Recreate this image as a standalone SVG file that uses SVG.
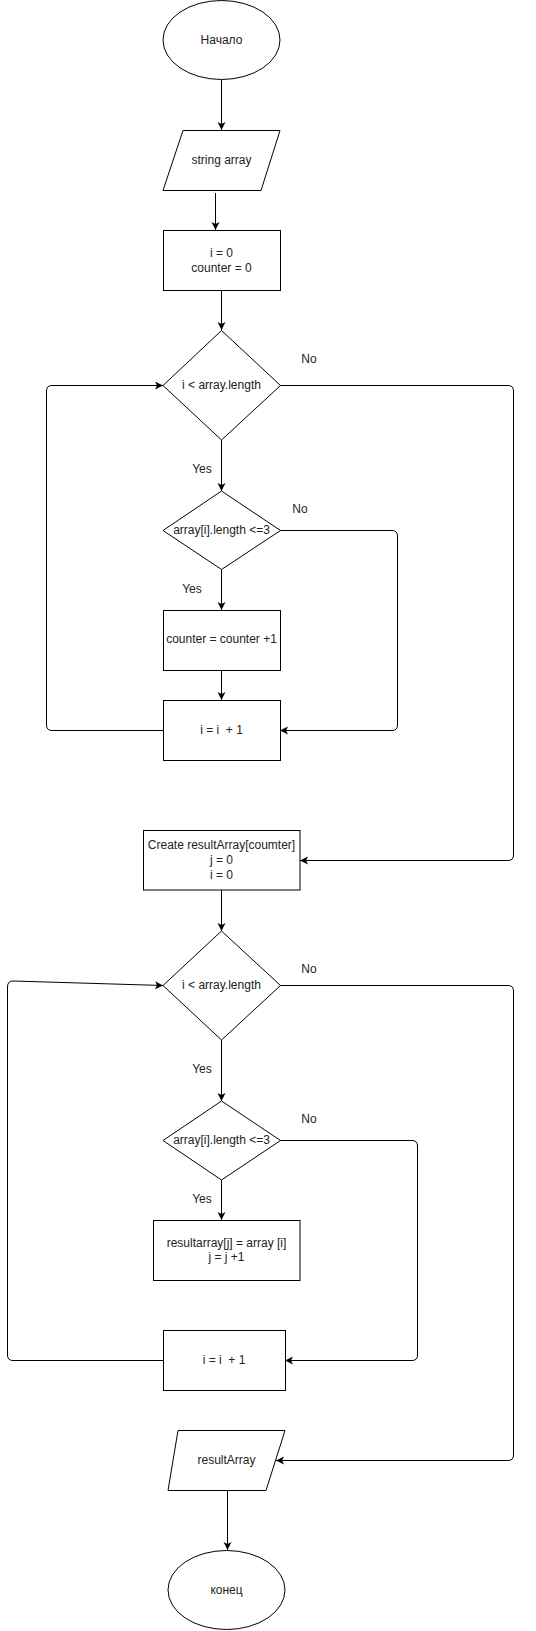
<svg xmlns="http://www.w3.org/2000/svg" width="536" height="1631" viewBox="0 0 536 1631">
<style>
.s{fill:#fff;stroke:#000;stroke-width:1}
.t{font-family:"Liberation Sans",Arial,sans-serif;font-size:12px;fill:#222;text-anchor:middle;dominant-baseline:central}
.c{fill:none;stroke:#000;stroke-width:1}
.a{marker-end:url(#arr)}
</style>
<defs>
<marker id="arr" markerUnits="userSpaceOnUse" markerWidth="10" markerHeight="10" refX="8" refY="4" orient="auto">
<path d="M0,0 L8,4 L0,8 L2,4 z" fill="#000"/>
</marker>
</defs>
<rect width="536" height="1631" fill="#fff"/>
<g id="connectors">
<path class="c a" d="M221.5,80 V130"/>
<path class="c a" d="M215.5,193 V230"/>
<path class="c a" d="M221.5,290 V330"/>
<path class="c a" d="M221.5,440 V491"/>
<path class="c a" d="M280,385.5 H508 Q513.5,385.5 513.5,391 V855 Q513.5,860.5 508,860.5 H300"/>
<path class="c a" d="M280,530.5 H392 Q397.5,530.5 397.5,536 V725 Q397.5,730.5 392,730.5 H280"/>
<path class="c a" d="M221.5,569 V610"/>
<path class="c a" d="M221.5,670 V700"/>
<path class="c a" d="M163,730.5 H52 Q46.5,730.5 46.5,725 V391 Q46.5,385.5 52,385.5 H163"/>
<path class="c a" d="M221.5,890 V931"/>
<path class="c a" d="M280,985.5 H508 Q513.5,985.5 513.5,991 V1455 Q513.5,1460.5 508,1460.5 H276"/>
<path class="c a" d="M221.5,1040 V1101"/>
<path class="c a" d="M280,1140.5 H412 Q417.5,1140.5 417.5,1146 V1355 Q417.5,1360.5 412,1360.5 H285"/>
<path class="c a" d="M221.5,1180 V1220"/>
<path class="c a" d="M163,1360.5 H13 Q7.5,1360.5 7.5,1355 V987 Q7.5,981 13,981 L163,985.5"/>
<path class="c a" d="M227.5,1490 V1550"/>
</g>
<g id="labels">
<text class="t" x="309" y="359">No</text>
<text class="t" x="202" y="469">Yes</text>
<text class="t" x="300" y="509">No</text>
<text class="t" x="192" y="589">Yes</text>
<text class="t" x="309" y="969">No</text>
<text class="t" x="202" y="1069">Yes</text>
<text class="t" x="309" y="1119">No</text>
<text class="t" x="202" y="1199">Yes</text>
</g>
<g id="start">
<ellipse class="s" cx="221.5" cy="40" rx="58.5" ry="39.5"/>
<text class="t" x="221.5" y="40">Начало</text>
</g>
<g id="input">
<path class="s" d="M183,130.5 H280 L261,190.5 H163 Z"/>
<text class="t" x="221.5" y="160">string array</text>
</g>
<g id="init1">
<rect class="s" x="163.5" y="230.5" width="117" height="60"/>
<text class="t" x="221.5" y="253">i = 0</text>
<text class="t" x="221.5" y="268">counter = 0</text>
</g>
<g id="cond1">
<path class="s" d="M221.5,330.5 L280.5,385.5 L221.5,440 L163,385.5 Z"/>
<text class="t" x="221.5" y="385">i &lt; array.length</text>
</g>
<g id="cond2">
<path class="s" d="M221.5,491 L280.5,530.5 L221.5,569.5 L163,530.5 Z"/>
<text class="t" x="221.5" y="530">array[i].length &lt;=3</text>
</g>
<g id="count">
<rect class="s" x="163.5" y="610.5" width="117" height="60"/>
<text class="t" x="221.5" y="639">counter = counter +1</text>
</g>
<g id="inc1">
<rect class="s" x="163.5" y="700.5" width="117" height="60"/>
<text class="t" x="221.5" y="730" xml:space="preserve">i = i  + 1</text>
</g>
<g id="create">
<rect class="s" x="143.5" y="830.5" width="156.5" height="59.5"/>
<text class="t" x="221.5" y="845">Create resultArray[coumter]</text>
<text class="t" x="221.5" y="860">j = 0</text>
<text class="t" x="221.5" y="875">i = 0</text>
</g>
<g id="cond3">
<path class="s" d="M221.5,931 L280.5,985.5 L221.5,1040 L163,985.5 Z"/>
<text class="t" x="221.5" y="985">i &lt; array.length</text>
</g>
<g id="cond4">
<path class="s" d="M221.5,1101 L280.5,1140.5 L221.5,1180 L163,1140.5 Z"/>
<text class="t" x="221.5" y="1140">array[i].length &lt;=3</text>
</g>
<g id="assign">
<rect class="s" x="153.5" y="1220.5" width="146.5" height="60"/>
<text class="t" x="226.5" y="1243">resultarray[j] = array [i]</text>
<text class="t" x="226.5" y="1257">j = j +1</text>
</g>
<g id="inc2">
<rect class="s" x="163.5" y="1330.5" width="122" height="60"/>
<text class="t" x="224" y="1360" xml:space="preserve">i = i  + 1</text>
</g>
<g id="output">
<path class="s" d="M178,1430.5 H285 L266,1490.5 H168 Z"/>
<text class="t" x="226.5" y="1460">resultArray</text>
</g>
<g id="end">
<ellipse class="s" cx="226.5" cy="1590" rx="58.5" ry="39.5"/>
<text class="t" x="226.5" y="1590">конец</text>
</g>
</svg>
